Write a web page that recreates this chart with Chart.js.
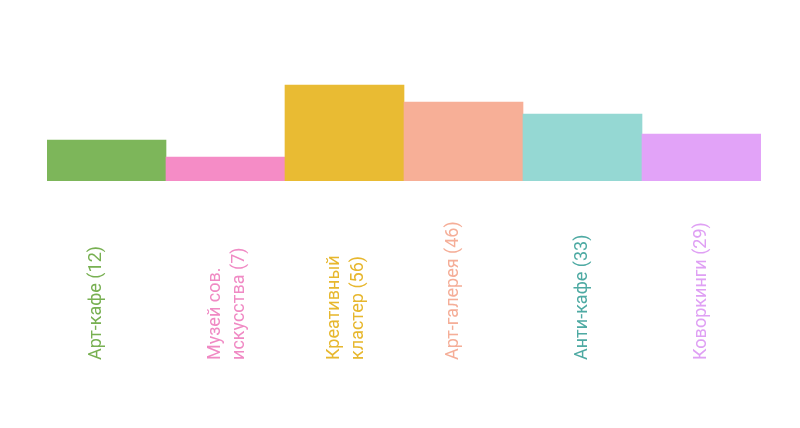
<!DOCTYPE html>
<html>
<head>
<meta charset="utf-8">
<script src="https://cdn.jsdelivr.net/npm/chart.js@4"></script>
<style>
  html, body { margin: 0; padding: 0; background: #ffffff; }
  #wrap { width: 800px; height: 428px; }
</style>
</head>
<body>
<div id="wrap"><canvas id="c" width="800" height="428"></canvas></div>
<script>
// ---- data ----
const categories = ["Арт-кафе", "Музей сов. искусства", "Креативный кластер", "Арт-галерея", "Анти-кафе", "Коворкинги"];
const counts = [12, 7, 56, 46, 33, 29];
// bar heights (relative units)
const barValues = [41, 24, 96, 79, 67, 47];
// label lines as they appear
const labelLines = [
  ["Арт-кафе (12)"],
  ["Музей сов.", "искусства (7)"],
  ["Креативный", "кластер (56)"],
  ["Арт-галерея (46)"],
  ["Анти-кафе (33)"],
  ["Коворкинги (29)"]
];

// ---- styles ----
const barColors = ["#7db65a", "#f58cc6", "#e9bb33", "#f7af97", "#95d8d3", "#e2a3f8"];
const textColors = ["#78b052", "#f08ac4", "#e7b72e", "#f5ae98", "#4eaaa3", "#dfa0f4"];
const labelShift = [-12, 0, 0, -12, -2, -2];

const labelPlugin = {
  id: 'rotLabels',
  afterDatasetsDraw(chart) {
    const ctx = chart.ctx;
    const xs = chart.scales.x;
    const L = 24, cap = 13, bottomY = 360;
    ctx.save();
    ctx.font = '18px Roboto';
    ctx.textAlign = 'left';
    ctx.textBaseline = 'alphabetic';
    labelLines.forEach((lines, i) => {
      const x = xs.getPixelForValue(i);
      const n = lines.length;
      const yb0 = labelShift[i] - ((n - 1) * L - cap) / 2;
      ctx.save();
      ctx.translate(x, bottomY);
      ctx.rotate(-Math.PI / 2);
      ctx.fillStyle = textColors[i];
      lines.forEach((t, k) => ctx.fillText(t, 0, yb0 + k * L));
      ctx.restore();
    });
    ctx.restore();
  }
};

new Chart(document.getElementById('c'), {
  type: 'bar',
  data: {
    labels: categories,
    datasets: [{
      data: barValues,
      backgroundColor: barColors,
      borderWidth: 0,
      barPercentage: 1,
      categoryPercentage: 1
    }]
  },
  options: {
    responsive: false,
    devicePixelRatio: 1,
    animation: false,
    layout: { padding: { left: 47, right: 39, top: 0, bottom: 247 } },
    plugins: { legend: { display: false }, tooltip: { enabled: false } },
    scales: {
      x: { display: false },
      y: { display: false, min: 0, max: 181 }
    }
  },
  plugins: [labelPlugin]
});
</script>
</body>
</html>
